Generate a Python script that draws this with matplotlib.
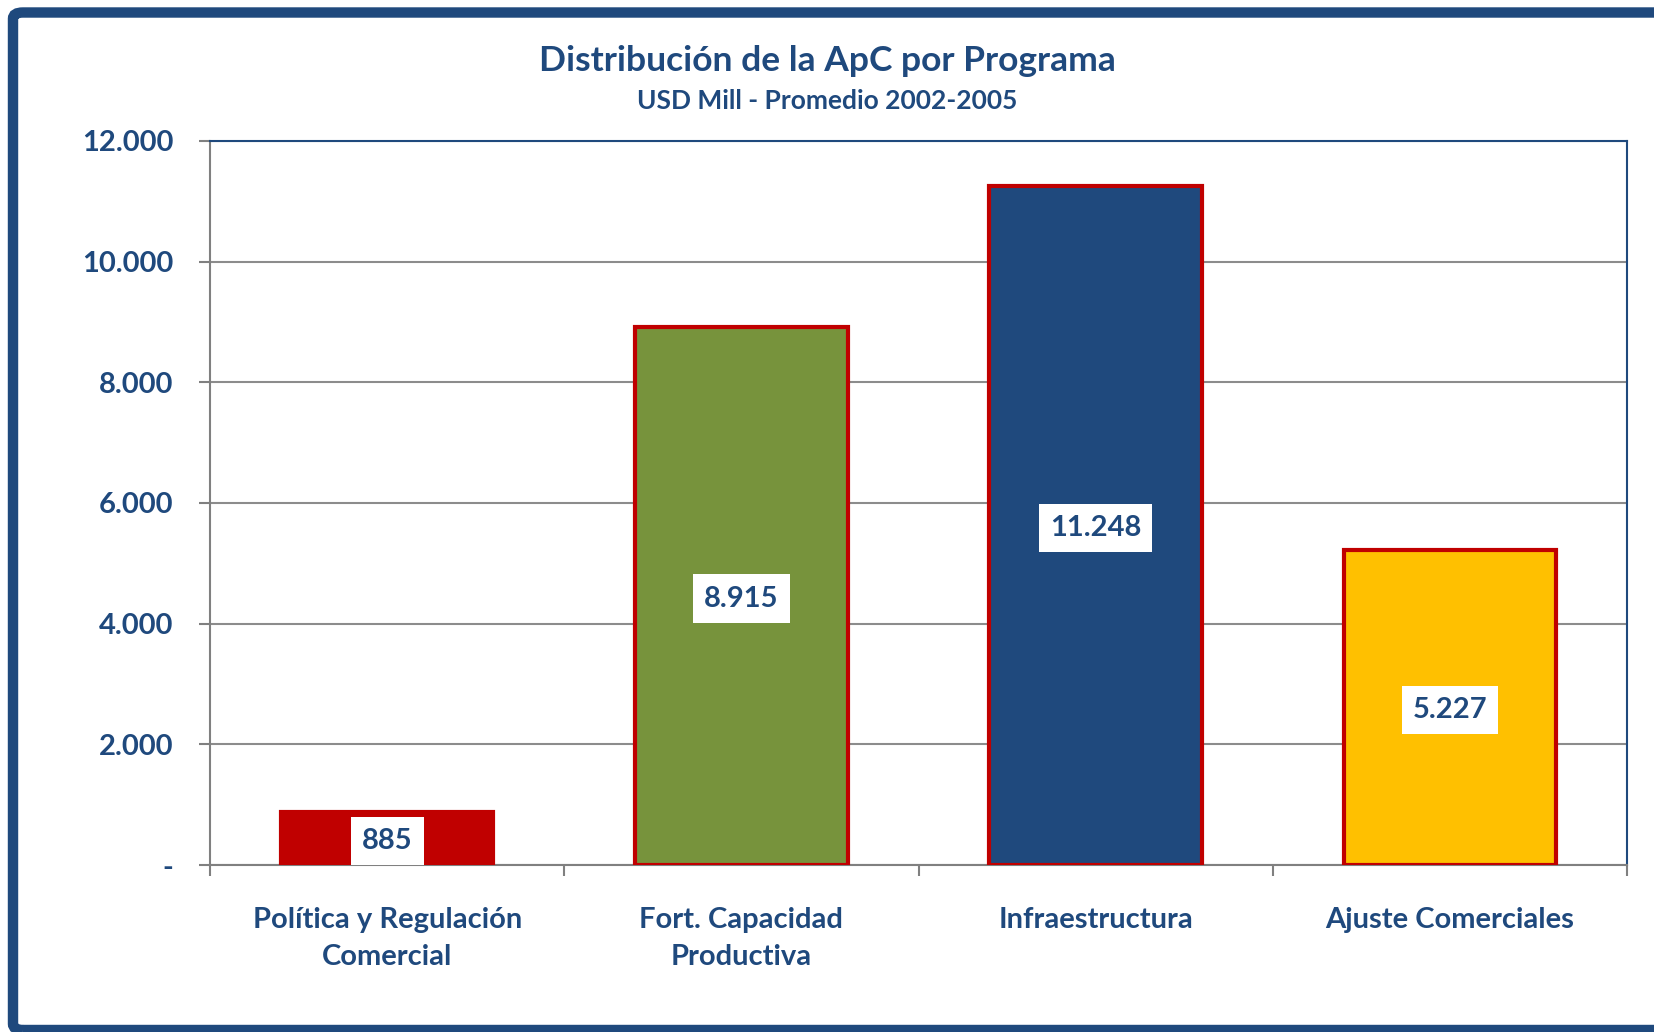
import matplotlib.pyplot as plt
from matplotlib.patches import FancyBboxPatch
from matplotlib.ticker import FuncFormatter, FixedLocator

# data (USD Mill, promedio 2002-2005)
categorias = ["Política y Regulación\nComercial", "Fort. Capacidad\nProductiva",
              "Infraestructura", "Ajuste Comerciales"]
valores = [885, 8915, 11248, 5227]
etiquetas = ["885", "8.915", "11.248", "5.227"]
colores = ["#C00000", "#77933C", "#1F497D", "#FFC000"]
bordes = ["#C00000", "#C00000", "#C00000", "#C00000"]

azul = "#1F497D"
plt.rcParams['font.family'] = ['Lato', 'DejaVu Sans']
plt.rcParams['font.weight'] = 'bold'

fig = plt.figure(figsize=(16.54, 10.32), dpi=100)
ax = fig.add_axes([0.127, 0.1618, 0.8567, 0.7016])

x = range(len(valores))
bars = ax.bar(x, valores, width=0.6, color=colores, edgecolor=bordes, linewidth=3, zorder=3)

# value labels in white boxes, centered in each bar
for b, t in zip(bars, etiquetas):
    ax.text(b.get_x() + b.get_width() / 2, b.get_height() / 2, t,
            ha='center', va='center_baseline', fontsize=21, fontweight='bold', color=azul,
            bbox=dict(facecolor='white', edgecolor='none', boxstyle='square,pad=0.38'), zorder=4)

ax.set_xlim(-0.5, 3.5)
ax.set_ylim(0, 12000)
ax.set_yticks(range(0, 12001, 2000))
ax.yaxis.set_major_formatter(FuncFormatter(lambda v, p: "-" if v == 0 else f"{int(v):,}".replace(",", ".")))
ax.set_xticks(list(x))
ax.set_xticklabels(categorias, fontsize=21, fontweight='bold', color=azul, linespacing=1.55)
ax.xaxis.set_minor_locator(FixedLocator([-0.5, 0.5, 1.5, 2.5, 3.5]))
ax.tick_params(axis='x', which='major', length=0, pad=30)
ax.tick_params(axis='x', which='minor', length=8, color='#808080', width=1.5)
ax.tick_params(axis='y', length=8, color='#808080', width=1.5, labelsize=21,
               labelcolor=azul, pad=18.5)
for lab in ax.get_yticklabels():
    lab.set_fontweight('bold')

ax.grid(axis='y', color='#8C8C8C', linewidth=1.5, zorder=0)
ax.spines['left'].set_color('#808080')
ax.spines['bottom'].set_color('#808080')
ax.spines['left'].set_linewidth(1.5)
ax.spines['bottom'].set_linewidth(1.5)
ax.spines['top'].set_color(azul)
ax.spines['right'].set_color(azul)
ax.spines['top'].set_linewidth(1.5)
ax.spines['right'].set_linewidth(1.5)

fig.text(0.5, 0.941, "Distribución de la ApC por Programa", ha='center', va='center',
         fontsize=25.5, fontweight='bold', color=azul)
fig.text(0.5, 0.902, "USD Mill - Promedio 2002-2005", ha='center', va='center',
         fontsize=19, fontweight='bold', color=azul)

# outer frame
marco = FancyBboxPatch((13 / 1654, 2 / 1032), 1.05, 1 - 14.5 / 1032, transform=fig.transFigure,
                       boxstyle='round,pad=0,rounding_size=0.006', facecolor='none',
                       edgecolor=azul, linewidth=7.5, clip_on=False)
fig.patches.append(marco)

fig.savefig("out.png", dpi=100)
